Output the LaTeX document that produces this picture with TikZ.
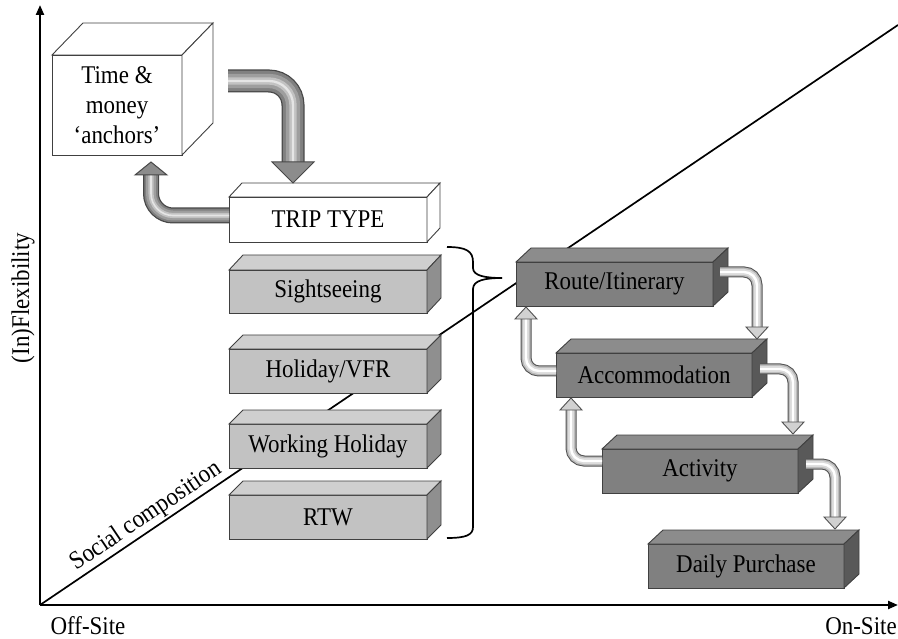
\documentclass[tikz,border=0pt]{standalone}
\usepackage{fontspec}
\setmainfont[FakeStretch=0.9]{Liberation Serif}
\usetikzlibrary{arrows.meta}
\newcommand{\fsz}{\fontsize{25.5}{30}\selectfont}
\newcommand{\cuboid}[9]{%
  \node[#2front, minimum width={#5-#3}, minimum height={#6-#4}] (#1) at ({(#3+#5)/2},{(#4+#6)/2}) {#9};
  \filldraw[#2top] (#1.north west) -- ++(#7,-#8) -- ([shift={(#7,-#8)}]#1.north east) -- (#1.north east) -- cycle;
  \filldraw[#2side] (#1.north east) -- ++(#7,-#8) -- ([shift={(#7,-#8)}]#1.south east) -- (#1.south east) -- cycle;
}
% dark tube: width, corner radius, path
\newcommand{\darktube}[3]{%
  \draw[line width={#1}, draw=black!72, rounded corners=#2] #3;
  \draw[line width={#1-2.5}, draw=black!50, rounded corners=#2] #3;
  \draw[line width={0.62*#1}, draw=black!38, rounded corners=#2] #3;
  \draw[line width={0.32*#1}, draw=black!24, rounded corners=#2] #3;
  \draw[line width={0.1*#1}, draw=black!10, rounded corners=#2] #3;
}
% light tube
\newcommand{\lighttube}[3]{%
  \draw[line width={#1}, draw=black!68, rounded corners=#2] #3;
  \draw[line width={#1-2}, draw=black!28, rounded corners=#2] #3;
  \draw[line width={0.55*#1}, draw=black!14, rounded corners=#2] #3;
  \draw[line width={0.22*#1}, draw=white, rounded corners=#2] #3;
}
\newcommand{\headdown}[4]{\filldraw[#4] (#1) -- ++(-#2,-#3) -- ++({2*#2},0) -- cycle;}
\newcommand{\headup}[4]{\filldraw[#4] (#1) -- ++(-#2,#3) -- ++({2*#2},0) -- cycle;}
\tikzset{
  boxline/.style={draw=black!75, line width=0.9pt},
  whitefront/.style={boxline, fill=white, inner sep=0pt, outer sep=0pt, align=center},
  whitetop/.style={boxline, fill=white},
  whiteside/.style={boxline, fill=white},
  grayfront/.style={boxline, fill=black!24, inner sep=0pt, outer sep=0pt},
  graytop/.style={boxline, fill=black!19},
  grayside/.style={boxline, fill=black!44},
  darkfront/.style={boxline, fill=black!50, inner sep=0pt, outer sep=0pt},
  darktop/.style={boxline, fill=black!45},
  darkside/.style={boxline, fill=black!65},
  axis/.style={line width=2.2pt, draw=black},
  axlabel/.style={inner sep=0pt},
  bighd/.style={fill=black!45, draw=black!72, line width=1pt},
  smallhd/.style={fill=black!18, draw=black!68, line width=0.9pt},
}
\begin{document}
\begin{tikzpicture}[x=1pt, y=-1pt, font=\fsz]
\useasboundingbox (0,0) rectangle (898,639);
% axes
\coordinate (O) at (40,605);
\coordinate (ytop) at (40,5);
\coordinate (xend) at (898,605);
\coordinate (dtop) at (898,25);
\draw[line width=1.7pt] (O) -- (dtop);
\draw[axis, -{Triangle[length=10pt, width=8pt]}] (O) -- (ytop);
\draw[axis, -{Triangle[length=10pt, width=8pt]}] (O) -- (xend);
\node[axlabel, rotate=90] (flex) at (23,298) {(In)Flexibility};
\node[axlabel] (off) at (88,626) {Off-Site};
\node[axlabel] (on) at (861,626) {On-Site};
\path (O) -- (dtop) node[pos=0.133, sloped, above, inner sep=2pt] (social) {Social composition};
% boxes
\cuboid{time}{white}{52}{55}{182}{155}{31}{32}{Time \&\\money\\‘anchors’}
\cuboid{trip}{white}{229}{197}{427}{242}{13}{14}{TRIP TYPE}
\cuboid{sight}{gray}{229}{270}{427}{313}{14}{15}{Sightseeing}
\cuboid{holiday}{gray}{229}{349}{427}{393}{14}{14}{Holiday/VFR}
\cuboid{working}{gray}{229}{424}{427}{468}{14}{14}{Working Holiday}
\cuboid{rtw}{gray}{229}{495}{427}{539}{14}{14}{RTW}
\cuboid{route}{dark}{516}{262}{713}{306}{15}{14}{Route/Itinerary}
\cuboid{accom}{dark}{556}{353}{752}{397}{15}{14}{Accommodation}
\cuboid{activity}{dark}{602}{449}{798}{493}{15}{14}{Activity}
\cuboid{daily}{dark}{648}{544}{844}{588}{15}{14}{Daily Purchase}
% brace
\coordinate (brtop) at (447,247);
\coordinate (brtip) at (502,278);
\coordinate (brbot) at (447,538);
\draw[line width=1.7pt] (brtop) .. controls (466,247) and (473,251) .. (473,262) -- (473,268)
  .. controls (473,276) and (486,278) .. (brtip);
\draw[line width=1.7pt] (brtip) .. controls (486,278) and (473,280) .. (473,289) -- (473,527)
  .. controls (473,535) and (466,538) .. (brbot);
% big arrows
\coordinate (s1) at ([shift={(46,-24)}]time.east);
\coordinate (t1) at ([shift={(64,-14)}]trip.north west);
\darktube{23}{24}{(s1) -- (s1 -| t1) -- ([shift={(0,-21)}]t1)}
\headdown{t1}{21}{21}{bighd}
\coordinate (s2) at ([shift={(0,-4)}]trip.west);
\coordinate (t2) at ([shift={(34,7)}]time.south);
\darktube{16}{22}{(s2) -- (s2 -| t2) -- ([shift={(0,13)}]t2)}
\headup{t2}{16}{13}{bighd}
% small arrows down
\coordinate (b1s) at ([shift={(7,-12)}]route.east);
\coordinate (b1t) at ([shift={(201,-14)}]accom.north west);
\lighttube{11}{13}{(b1s) -- (b1s -| b1t) -- ([shift={(0,-12)}]b1t)}
\headdown{b1t}{11}{12}{smallhd}
\coordinate (b2s) at ([shift={(8,-6)}]accom.east);
\coordinate (b2t) at ([shift={(191,-15)}]activity.north west);
\lighttube{11}{13}{(b2s) -- (b2s -| b2t) -- ([shift={(0,-12)}]b2t)}
\headdown{b2t}{11}{12}{smallhd}
\coordinate (b3s) at ([shift={(8,-7)}]activity.east);
\coordinate (b3t) at ([shift={(187,-15)}]daily.north west);
\lighttube{11}{13}{(b3s) -- (b3s -| b3t) -- ([shift={(0,-12)}]b3t)}
\headdown{b3t}{11}{12}{smallhd}
% small arrows up
\coordinate (c1s) at ([shift={(0,-4)}]accom.west);
\coordinate (c1t) at ([shift={(10,1)}]route.south west);
\lighttube{11}{13}{(c1s) -- (c1s -| c1t) -- ([shift={(0,12)}]c1t)}
\headup{c1t}{11}{12}{smallhd}
\coordinate (c2s) at ([shift={(0,-10)}]activity.west);
\coordinate (c2t) at ([shift={(15,1)}]accom.south west);
\lighttube{11}{13}{(c2s) -- (c2s -| c2t) -- ([shift={(0,12)}]c2t)}
\headup{c2t}{11}{12}{smallhd}
\end{tikzpicture}
\end{document}
